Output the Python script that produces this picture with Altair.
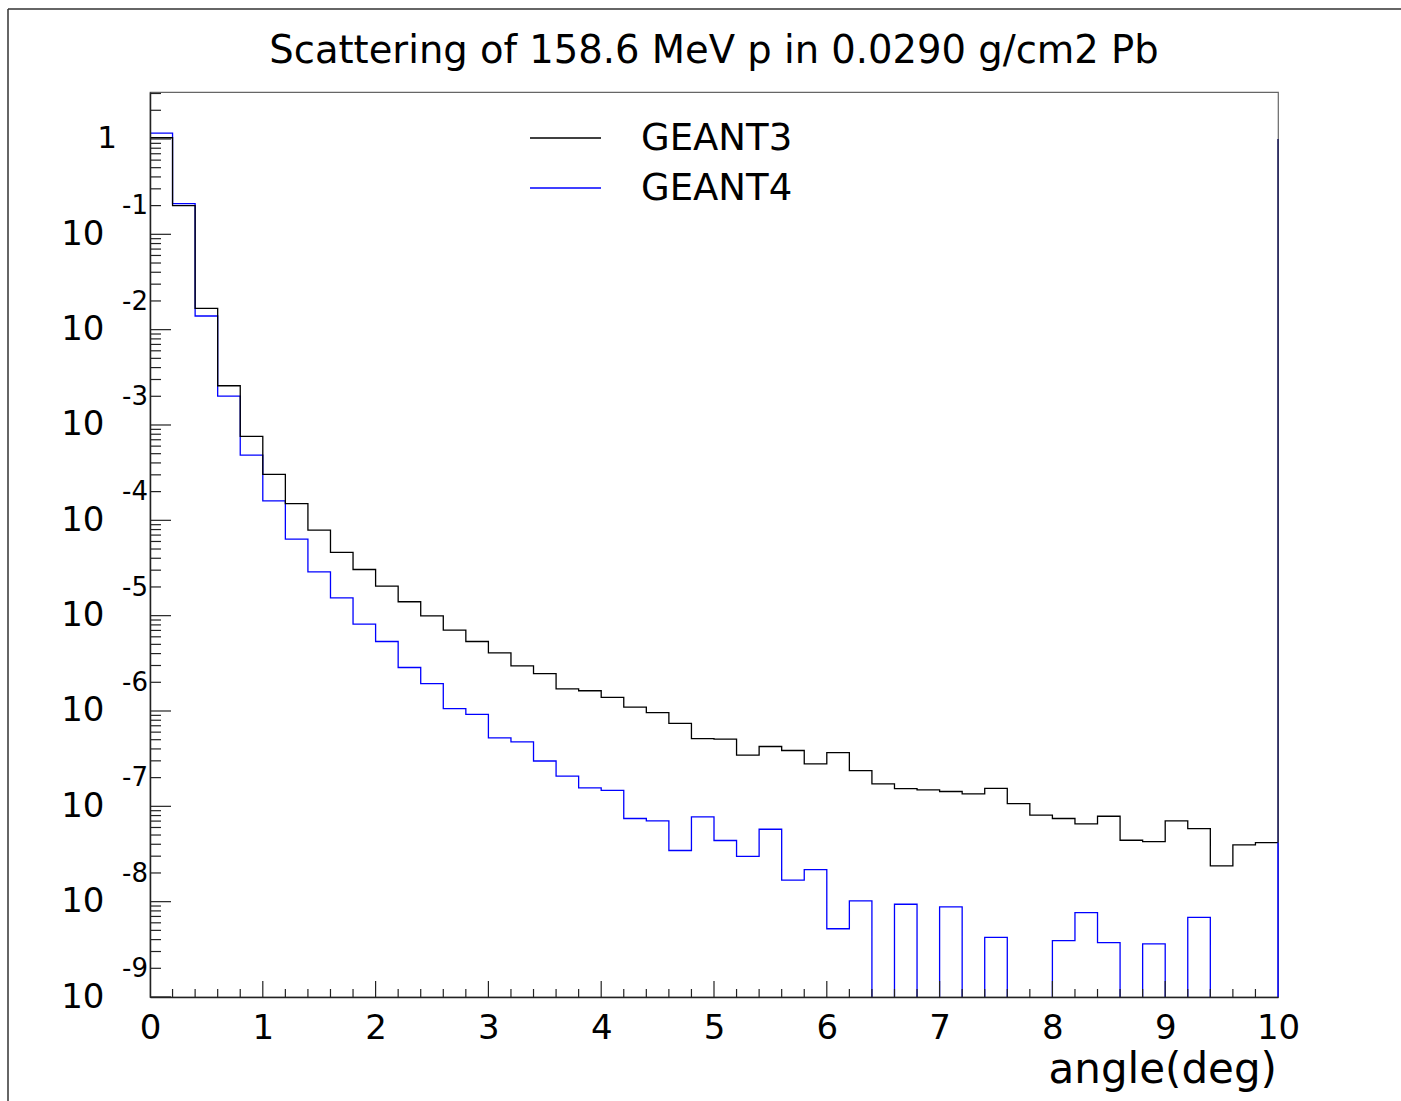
import altair as alt
import numpy as np
import pandas as pd

# ---------------- data ----------------
title_text = "Scattering of 158.6 MeV p in 0.0290 g/cm2 Pb"
x_title = "angle(deg)"
series_names = ["GEANT3", "GEANT4"]
series_colors = ["#000000", "#0000ff"]
bin_width = 0.2
x_min, x_max = 0.0, 10.0
y_min, y_max = 1e-9, 3.11

# bin contents, 50 bins of 0.2 deg
geant3 = [1.03, 0.20, 1.67e-2, 2.58e-3, 7.6e-4, 3.03e-4, 1.50e-4, 7.9e-5, 4.6e-5, 3.05e-5,
          2.04e-5, 1.40e-5, 9.95e-6, 7.05e-6, 5.36e-6, 4.07e-6, 2.97e-6, 2.47e-6, 1.71e-6, 1.63e-6,
          1.39e-6, 1.10e-6, 9.6e-7, 7.4e-7, 5.14e-7, 5.06e-7, 3.44e-7, 4.24e-7, 3.85e-7, 2.79e-7,
          3.66e-7, 2.37e-7, 1.72e-7, 1.53e-7, 1.49e-7, 1.43e-7, 1.35e-7, 1.54e-7, 1.07e-7, 8.07e-8,
          7.45e-8, 6.53e-8, 7.87e-8, 4.41e-8, 4.27e-8, 7.03e-8, 5.85e-8, 2.37e-8, 3.94e-8, 4.17e-8]
geant4 = [1.15, 0.21, 1.39e-2, 2.01e-3, 4.83e-4, 1.60e-4, 6.35e-5, 2.88e-5, 1.54e-5, 8.15e-6,
          5.36e-6, 2.86e-6, 1.94e-6, 1.06e-6, 9.2e-7, 5.22e-7, 4.74e-7, 2.99e-7, 2.07e-7, 1.56e-7,
          1.47e-7, 7.45e-8, 7.03e-8, 3.44e-8, 7.74e-8, 4.38e-8, 2.99e-8, 5.75e-8, 1.68e-8, 2.17e-8,
          5.2e-9, 1.02e-8, 0, 9.4e-9, 0, 8.8e-9, 0, 4.23e-9, 0, 0,
          3.9e-9, 7.66e-9, 3.72e-9, 0, 3.6e-9, 0, 6.85e-9, 0, 0, 0]
x_tick_values = list(range(0, 11))
y_decades = list(range(-9, 1))

# ---------------- layout ----------------
W, H = 1128, 905
FONT = "DejaVu Sans"
AXIS_COLOR = "#222222"

edges = [round(i * bin_width, 2) for i in range(len(geant3))]
zero_floor = y_min / 10.0   # empty bins drop below the frame and get clipped


def step_frame(vals, name):
    xs = edges + [x_max]
    ys = [v if v > 0 else zero_floor for v in vals]
    ys = ys + [ys[-1]]
    return pd.DataFrame({"x": xs, "y": ys, "series": name})


df3 = step_frame(geant3, series_names[0])
df4 = step_frame(geant4, series_names[1])

xscale = alt.Scale(domain=[x_min, x_max], nice=False, zero=False)
yscale = alt.Scale(type="log", domain=[y_min, y_max], nice=False)

# axes layer (labels + domain only)
axes = alt.Chart(df3).mark_line(opacity=0, clip=True).encode(
    x=alt.X("x:Q", scale=xscale,
            axis=alt.Axis(values=x_tick_values, format="d", ticks=False, tickSize=0,
                          grid=False, domainColor=AXIS_COLOR, domainWidth=1.5,
                          labelFont=FONT, labelFontSize=34, labelColor="black",
                          labelBaseline="alphabetic", labelPadding=41,
                          labelFlush=False, labelOverlap=False, title=None, zindex=2)),
    y=alt.Y("y:Q", scale=yscale,
            axis=alt.Axis(values=[10.0 ** d for d in y_decades if d < 0], labelExpr="'10'",
                          ticks=False, tickSize=0, grid=False,
                          domainColor=AXIS_COLOR, domainWidth=1.5,
                          labelFont=FONT, labelFontSize=34, labelColor="black",
                          labelBaseline="middle", labelPadding=46,
                          labelOverlap=False, title=None, zindex=2)),
)

line4 = alt.Chart(df4).mark_line(interpolate="step-after", strokeWidth=1.3, clip=True,
                                 color=series_colors[1]).encode(
    x=alt.X("x:Q", scale=xscale), y=alt.Y("y:Q", scale=yscale))
line3 = alt.Chart(df3).mark_line(interpolate="step-after", strokeWidth=1.3, clip=True,
                                 color=series_colors[0]).encode(
    x=alt.X("x:Q", scale=xscale), y=alt.Y("y:Q", scale=yscale))

# right-edge closing lines of the histograms
edge_blue = alt.Chart(pd.DataFrame({"a": [0]})).mark_rule(color=series_colors[1], strokeWidth=1.5).encode(
    x=alt.datum(x_max), y=alt.datum(geant3[-1]), y2=alt.datum(y_min))
edge_dark = alt.Chart(pd.DataFrame({"a": [0]})).mark_rule(color="#1a1a5a", strokeWidth=1.5).encode(
    x=alt.datum(x_max), y=alt.datum(1.0), y2=alt.datum(geant3[-1]))

# inward ticks
xmaj = pd.DataFrame({"v": [float(v) for v in x_tick_values[1:-1]]})
xmin_ = pd.DataFrame({"v": [round(i * bin_width, 2) for i in range(1, 50) if i % 5 != 0]})
ymaj = pd.DataFrame({"v": [10.0 ** d for d in y_decades]})
ymin_ = pd.DataFrame({"v": [k * 10.0 ** d for d in y_decades for k in range(2, 10) if k * 10.0 ** d <= y_max]})

xt_major = alt.Chart(xmaj).mark_rule(color=AXIS_COLOR, strokeWidth=1.2).encode(
    x=alt.X("v:Q", scale=xscale), y=alt.value(H), y2=alt.value(H - 16))
xt_minor = alt.Chart(xmin_).mark_rule(color=AXIS_COLOR, strokeWidth=1.2).encode(
    x=alt.X("v:Q", scale=xscale), y=alt.value(H), y2=alt.value(H - 8))
yt_major = alt.Chart(ymaj).mark_rule(color=AXIS_COLOR, strokeWidth=1.2).encode(
    y=alt.Y("v:Q", scale=yscale), x=alt.value(0), x2=alt.value(21))
yt_minor = alt.Chart(ymin_).mark_rule(color=AXIS_COLOR, strokeWidth=1.2).encode(
    y=alt.Y("v:Q", scale=yscale), x=alt.value(0), x2=alt.value(11))

# exponents of the y labels
expo = pd.DataFrame({"v": [10.0 ** d for d in y_decades if d < 0],
                     "t": [str(d) for d in y_decades if d < 0]})
exponents = alt.Chart(expo).mark_text(font=FONT, fontSize=26, align="right", baseline="middle",
                                      dy=-28, color="black").encode(
    y=alt.Y("v:Q", scale=yscale), x=alt.value(-2), text="t:N")
one_label = alt.Chart(pd.DataFrame({"a": [0]})).mark_text(
    font=FONT, fontSize=31, align="right", baseline="middle", color="black").encode(
    y=alt.datum(1.0), x=alt.value(-33), text=alt.value("1"))

# title & x-axis title
title_mark = alt.Chart(pd.DataFrame({"a": [0]})).mark_text(
    font=FONT, fontSize=38.5, align="center", baseline="alphabetic", color="black").encode(
    x=alt.value(W / 2), y=alt.value(-29), text=alt.value(title_text))
xtitle_mark = alt.Chart(pd.DataFrame({"a": [0]})).mark_text(
    font=FONT, fontSize=42, align="right", baseline="alphabetic", color="black").encode(
    x=alt.value(W - 1), y=alt.value(991), text=alt.value(x_title))

# legend (drawn by hand, ROOT style)
def legend_entry(name, color, ypix):
    r = alt.Chart(pd.DataFrame({"a": [0]})).mark_rule(color=color, strokeWidth=1.3).encode(
        x=alt.value(380), x2=alt.value(451), y=alt.value(ypix))
    t = alt.Chart(pd.DataFrame({"a": [0]})).mark_text(
        font=FONT, fontSize=37, align="left", baseline="middle", color="black").encode(
        x=alt.value(491), y=alt.value(ypix + 1), text=alt.value(name))
    return [r, t]

leg = legend_entry(series_names[0], series_colors[0], 46) + legend_entry(series_names[1], series_colors[1], 96)

# outer pad frame
pad_left = alt.Chart(pd.DataFrame({"a": [0]})).mark_rule(color="#333333", strokeWidth=1.5).encode(
    x=alt.value(-142), y=alt.value(-83), y2=alt.value(1009))
pad_top = alt.Chart(pd.DataFrame({"a": [0]})).mark_rule(color="#333333", strokeWidth=1.5).encode(
    y=alt.value(-83), x=alt.value(-142), x2=alt.value(1251))

chart = alt.layer(
    axes, line4, line3, edge_blue, edge_dark,
    xt_major, xt_minor, yt_major, yt_minor,
    exponents, one_label, title_mark, xtitle_mark, *leg, pad_left, pad_top,
).properties(
    width=W, height=H,
    autosize=alt.AutoSizeParams(type="none"),
    padding={"left": 150, "top": 92, "right": 123, "bottom": 104},
    background="white",
).configure_view(stroke="#666666", strokeWidth=1.2)

chart.save("out.html", embed_options={"renderer": "svg", "actions": False})
